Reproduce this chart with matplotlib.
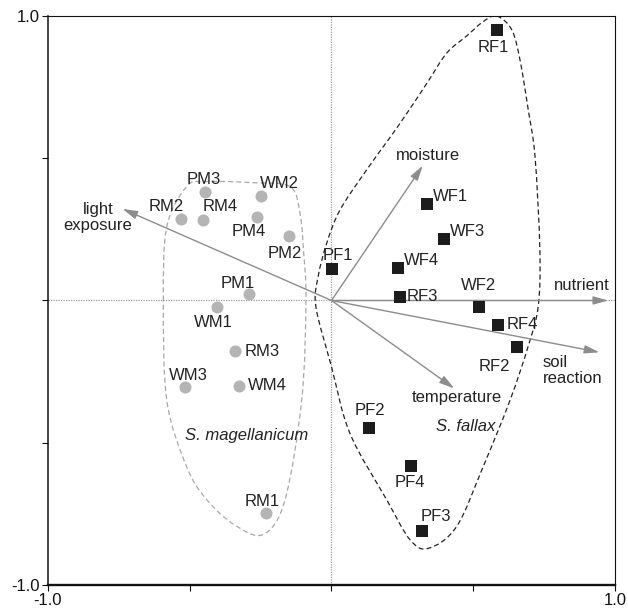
import numpy as np
import matplotlib
matplotlib.use("Agg")
import matplotlib.pyplot as plt
from matplotlib.path import Path
from matplotlib.patches import PathPatch

plt.rcParams["font.family"] = ["Liberation Sans", "DejaVu Sans"]

# --- sample scores: S. magellanicum (gray circles) ---
m_names = ["PM3", "WM2", "RM2", "RM4", "PM4", "PM2", "PM1",
           "WM1", "RM3", "WM3", "WM4", "RM1"]
m_x = [-0.446, -0.249, -0.531, -0.454, -0.264, -0.151, -0.290,
       -0.405, -0.339, -0.516, -0.325, -0.232]
m_y = [0.383, 0.367, 0.286, 0.283, 0.293, 0.227, 0.022,
       -0.024, -0.176, -0.305, -0.299, -0.748]

# --- sample scores: S. fallax (black squares) ---
f_names = ["RF1", "WF1", "WF3", "PF1", "WF4", "RF3",
           "WF2", "RF4", "RF2", "PF2", "PF4", "PF3"]
f_x = [0.583, 0.338, 0.398, 0.001, 0.235, 0.242,
       0.520, 0.586, 0.655, 0.133, 0.282, 0.318]
f_y = [0.951, 0.338, 0.215, 0.112, 0.114, 0.013,
       -0.022, -0.086, -0.163, -0.447, -0.581, -0.810]

# --- environmental vectors ---
env_names = ["light\nexposure", "moisture", "nutrient", "soil\nreaction", "temperature"]
env_x = [-0.737, 0.322, 0.976, 0.945, 0.433]
env_y = [0.322, 0.474, 0.0, -0.182, -0.309]

# --- group outlines (control points of dashed hulls) ---
fallax_hull_x = [0.583, 0.636, 0.665, 0.694, 0.718, 0.735, 0.729, 0.694,
                 0.630, 0.535, 0.441, 0.342, 0.277, 0.195, 0.065,
                 0.000, -0.055, -0.047, -0.017, 0.030, 0.124, 0.242, 0.336,
                 0.406, 0.477, 0.535]
fallax_hull_y = [1.000, 0.951, 0.845, 0.670, 0.505, 0.178, -0.022, -0.160,
                 -0.350, -0.584, -0.795, -0.871, -0.841, -0.701, -0.467,
                 -0.233, -0.022, 0.084, 0.201, 0.318, 0.459, 0.623, 0.763,
                 0.869, 0.930, 0.980]
mag_hull_x = [-0.593, -0.581, -0.511, -0.446, -0.276, -0.146, -0.111, -0.099,
              -0.090, -0.105, -0.164, -0.240, -0.340, -0.440, -0.511, -0.581]
mag_hull_y = [0.000, 0.259, 0.400, 0.418, 0.414, 0.400, 0.306, 0.178,
              0.000, -0.350, -0.701, -0.822, -0.790, -0.700, -0.584, -0.350]


def closed_curve(xs, ys):
    """Closed Catmull-Rom curve through the control points, as a Bezier path."""
    p = np.column_stack([xs, ys])
    n = len(p)
    verts = [p[0]]
    codes = [Path.MOVETO]
    for i in range(n):
        p0, p1, p2, p3 = p[i - 1], p[i], p[(i + 1) % n], p[(i + 2) % n]
        verts += [p1 + (p2 - p0) / 6, p2 - (p3 - p1) / 6, p2]
        codes += [Path.CURVE4] * 3
    return Path(verts, codes)


fig = plt.figure(figsize=(6.28, 6.10), dpi=100)
ax = fig.add_axes([0.0764, 0.041, 0.9029, 0.9328])
ax.set_xlim(-1, 1)
ax.set_ylim(-1, 1)

ax.axhline(0, color="#9a9a9a", lw=0.9, ls=(0, (1, 1)), zorder=1)
ax.axvline(0, color="#9a9a9a", lw=0.9, ls=(0, (1, 1)), zorder=1)

ax.add_patch(PathPatch(closed_curve(mag_hull_x, mag_hull_y), fill=False,
                       ec="#a8a8a8", lw=0.9, ls=(0, (4, 2.5)), zorder=2))
ax.add_patch(PathPatch(closed_curve(fallax_hull_x, fallax_hull_y), fill=False,
                       ec="#222222", lw=0.9, ls=(0, (4, 2.5)), zorder=2))

for ex, ey in zip(env_x, env_y):
    ax.annotate("", xy=(ex, ey), xytext=(0, 0),
                arrowprops=dict(arrowstyle="-|>,head_length=0.9,head_width=0.25",
                                color="#8c8c8c", lw=1.0, shrinkA=0, shrinkB=0,
                                mutation_scale=10), zorder=3)

ax.scatter(m_x, m_y, s=75, marker="o", color="#b4b4b4", lw=0, zorder=4)
ax.scatter(f_x, f_y, s=80, marker="s", color="#1c1c1c", lw=0, zorder=4)

txt = dict(fontsize=12, color="#222222", zorder=5)
# labels for vectors
ax.text(-0.824, 0.292, env_names[0], ha="center", va="center", linespacing=1.15, **txt)
ax.text(0.342, 0.511, env_names[1], ha="center", va="center", **txt)
ax.text(0.882, 0.054, env_names[2], ha="center", va="center", **txt)
ax.text(0.744, -0.246, env_names[3], ha="left", va="center", linespacing=1.15, **txt)
ax.text(0.441, -0.342, env_names[4], ha="center", va="center", **txt)

# sample labels (position, alignment)
m_lab = {"PM3": (-0.450, 0.427, "center"), "WM2": (-0.184, 0.412, "center"),
         "RM2": (-0.584, 0.330, "center"), "RM4": (-0.393, 0.330, "center"),
         "PM4": (-0.293, 0.242, "center"), "PM2": (-0.166, 0.166, "center"),
         "PM1": (-0.329, 0.060, "center"), "WM1": (-0.417, -0.078, "center"),
         "RM3": (-0.308, -0.180, "left"), "WM3": (-0.505, -0.262, "center"),
         "WM4": (-0.293, -0.300, "left"), "RM1": (-0.243, -0.707, "center")}
f_lab = {"RF1": (0.571, 0.890, "center"), "WF1": (0.359, 0.367, "left"),
         "WF3": (0.418, 0.242, "left"), "PF1": (0.021, 0.159, "center"),
         "WF4": (0.257, 0.142, "left"), "RF3": (0.265, 0.013, "left"),
         "WF2": (0.518, 0.054, "center"), "RF4": (0.618, -0.086, "left"),
         "RF2": (0.574, -0.233, "center"), "PF2": (0.136, -0.385, "center"),
         "PF4": (0.275, -0.640, "center"), "PF3": (0.369, -0.760, "center")}
for name in m_names:
    lx, ly, ha = m_lab[name]
    ax.text(lx, ly, name, ha=ha, va="center", **txt)
for name in f_names:
    lx, ly, ha = f_lab[name]
    ax.text(lx, ly, name, ha=ha, va="center", **txt)

ax.text(-0.299, -0.476, "S. magellanicum", ha="center", va="center",
        style="italic", **txt)
ax.text(0.474, -0.444, "S. fallax", ha="center", va="center", style="italic", **txt)

ticks = [-1, -0.5, 0, 0.5, 1]
ax.set_xticks(ticks)
ax.set_xticklabels(["-1.0", "", "", "", "1.0"])
ax.set_yticks(ticks)
ax.set_yticklabels(["-1.0", "", "", "", "1.0"])
ax.tick_params(direction="out", length=4, width=0.8, labelsize=12,
               colors="#111111")
ax.tick_params(axis="x", pad=1.5)
ax.tick_params(axis="y", pad=2)

for side, lw in [("left", 1.1), ("bottom", 1.7), ("top", 0.8), ("right", 0.8)]:
    ax.spines[side].set_linewidth(lw)
    ax.spines[side].set_color("#111111")

fig.savefig("out.png", dpi=100)
